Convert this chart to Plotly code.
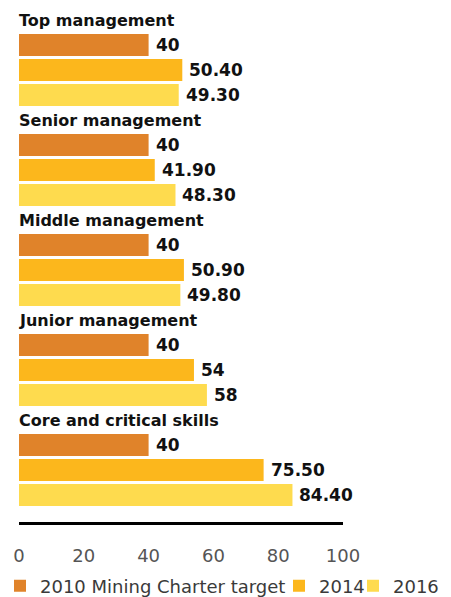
import plotly.graph_objects as go

categories = ["Top management", "Senior management", "Middle management",
              "Junior management", "Core and critical skills"]
series_names = ["2010 Mining Charter target", "2014", "2016"]
target_2010 = [40, 40, 40, 40, 40]
values_2014 = [50.40, 41.90, 50.90, 54, 75.50]
values_2016 = [49.30, 48.30, 49.80, 58, 84.40]
labels_2010 = ["40", "40", "40", "40", "40"]
labels_2014 = ["50.40", "41.90", "50.90", "54", "75.50"]
labels_2016 = ["49.30", "48.30", "49.80", "58", "84.40"]
x_ticks = [0, 20, 40, 60, 80, 100]

colors = ["#E0832A", "#FCB71C", "#FEDB4E"]
series_values = [target_2010, values_2014, values_2016]
series_labels = [labels_2010, labels_2014, labels_2016]
legend_ids = ["legend", "legend2", "legend3"]
legend_left_px = [-2, 279, 353]

FONT = "DejaVu Sans"
W, H = 451, 597
fig = go.Figure()

for k, (name, vals, labs, col) in enumerate(zip(series_names, series_values, series_labels, colors)):
    ys = [4 * g + 1 + k for g in range(len(categories))]
    fig.add_trace(go.Bar(
        x=vals, y=ys, orientation="h", name=name,
        marker=dict(color=col, line=dict(width=0)),
        width=0.88, hoverinfo="skip", legend=legend_ids[k],
    ))
    for v, y, lab in zip(vals, ys, labs):
        fig.add_annotation(x=v, y=y, xref="x", yref="y", text="<b>" + lab + "</b>",
                           showarrow=False, xanchor="left", yanchor="middle",
                           xshift=5, yshift=0,
                           font=dict(family=FONT, size=17, color="#111111"))

for g, cat in enumerate(categories):
    fig.add_annotation(x=0, y=4 * g, xref="x", yref="y", text="<b>" + cat + "</b>",
                       showarrow=False, xanchor="left", yanchor="middle", xshift=-2,
                       font=dict(family=FONT, size=16, color="#111111"))

legend_common = dict(orientation="h", xref="container", yref="container",
                     xanchor="left", yanchor="middle", y=1 - 586 / H,
                     bgcolor="rgba(0,0,0,0)",
                     font=dict(family=FONT, size=18, color="#3a3a3a"),
                     itemclick=False, itemdoubleclick=False)

fig.update_layout(
    width=W, height=H,
    margin=dict(l=19, r=108, t=0, b=75, autoexpand=False),
    paper_bgcolor="white", plot_bgcolor="white",
    barmode="overlay", showlegend=True,
    font=dict(family=FONT, size=17, color="#444444"),
    legend=dict(x=legend_left_px[0] / W, **legend_common),
    legend2=dict(x=legend_left_px[1] / W, **legend_common),
    legend3=dict(x=legend_left_px[2] / W, **legend_common),
    xaxis=dict(range=[0, 100], tickvals=x_ticks, showgrid=False, zeroline=False,
               showline=True, linecolor="black", linewidth=3, ticks="",
               ticklabelstandoff=15, fixedrange=True,
               tickfont=dict(family=FONT, size=18, color="#555555")),
    yaxis=dict(range=[20.08, -0.8], visible=False, showgrid=False, zeroline=False,
               fixedrange=True),
)

fig.write_html("out.html", config={"displayModeBar": False},
               post_script="document.body.style.margin='0';document.body.style.overflow='hidden';")
